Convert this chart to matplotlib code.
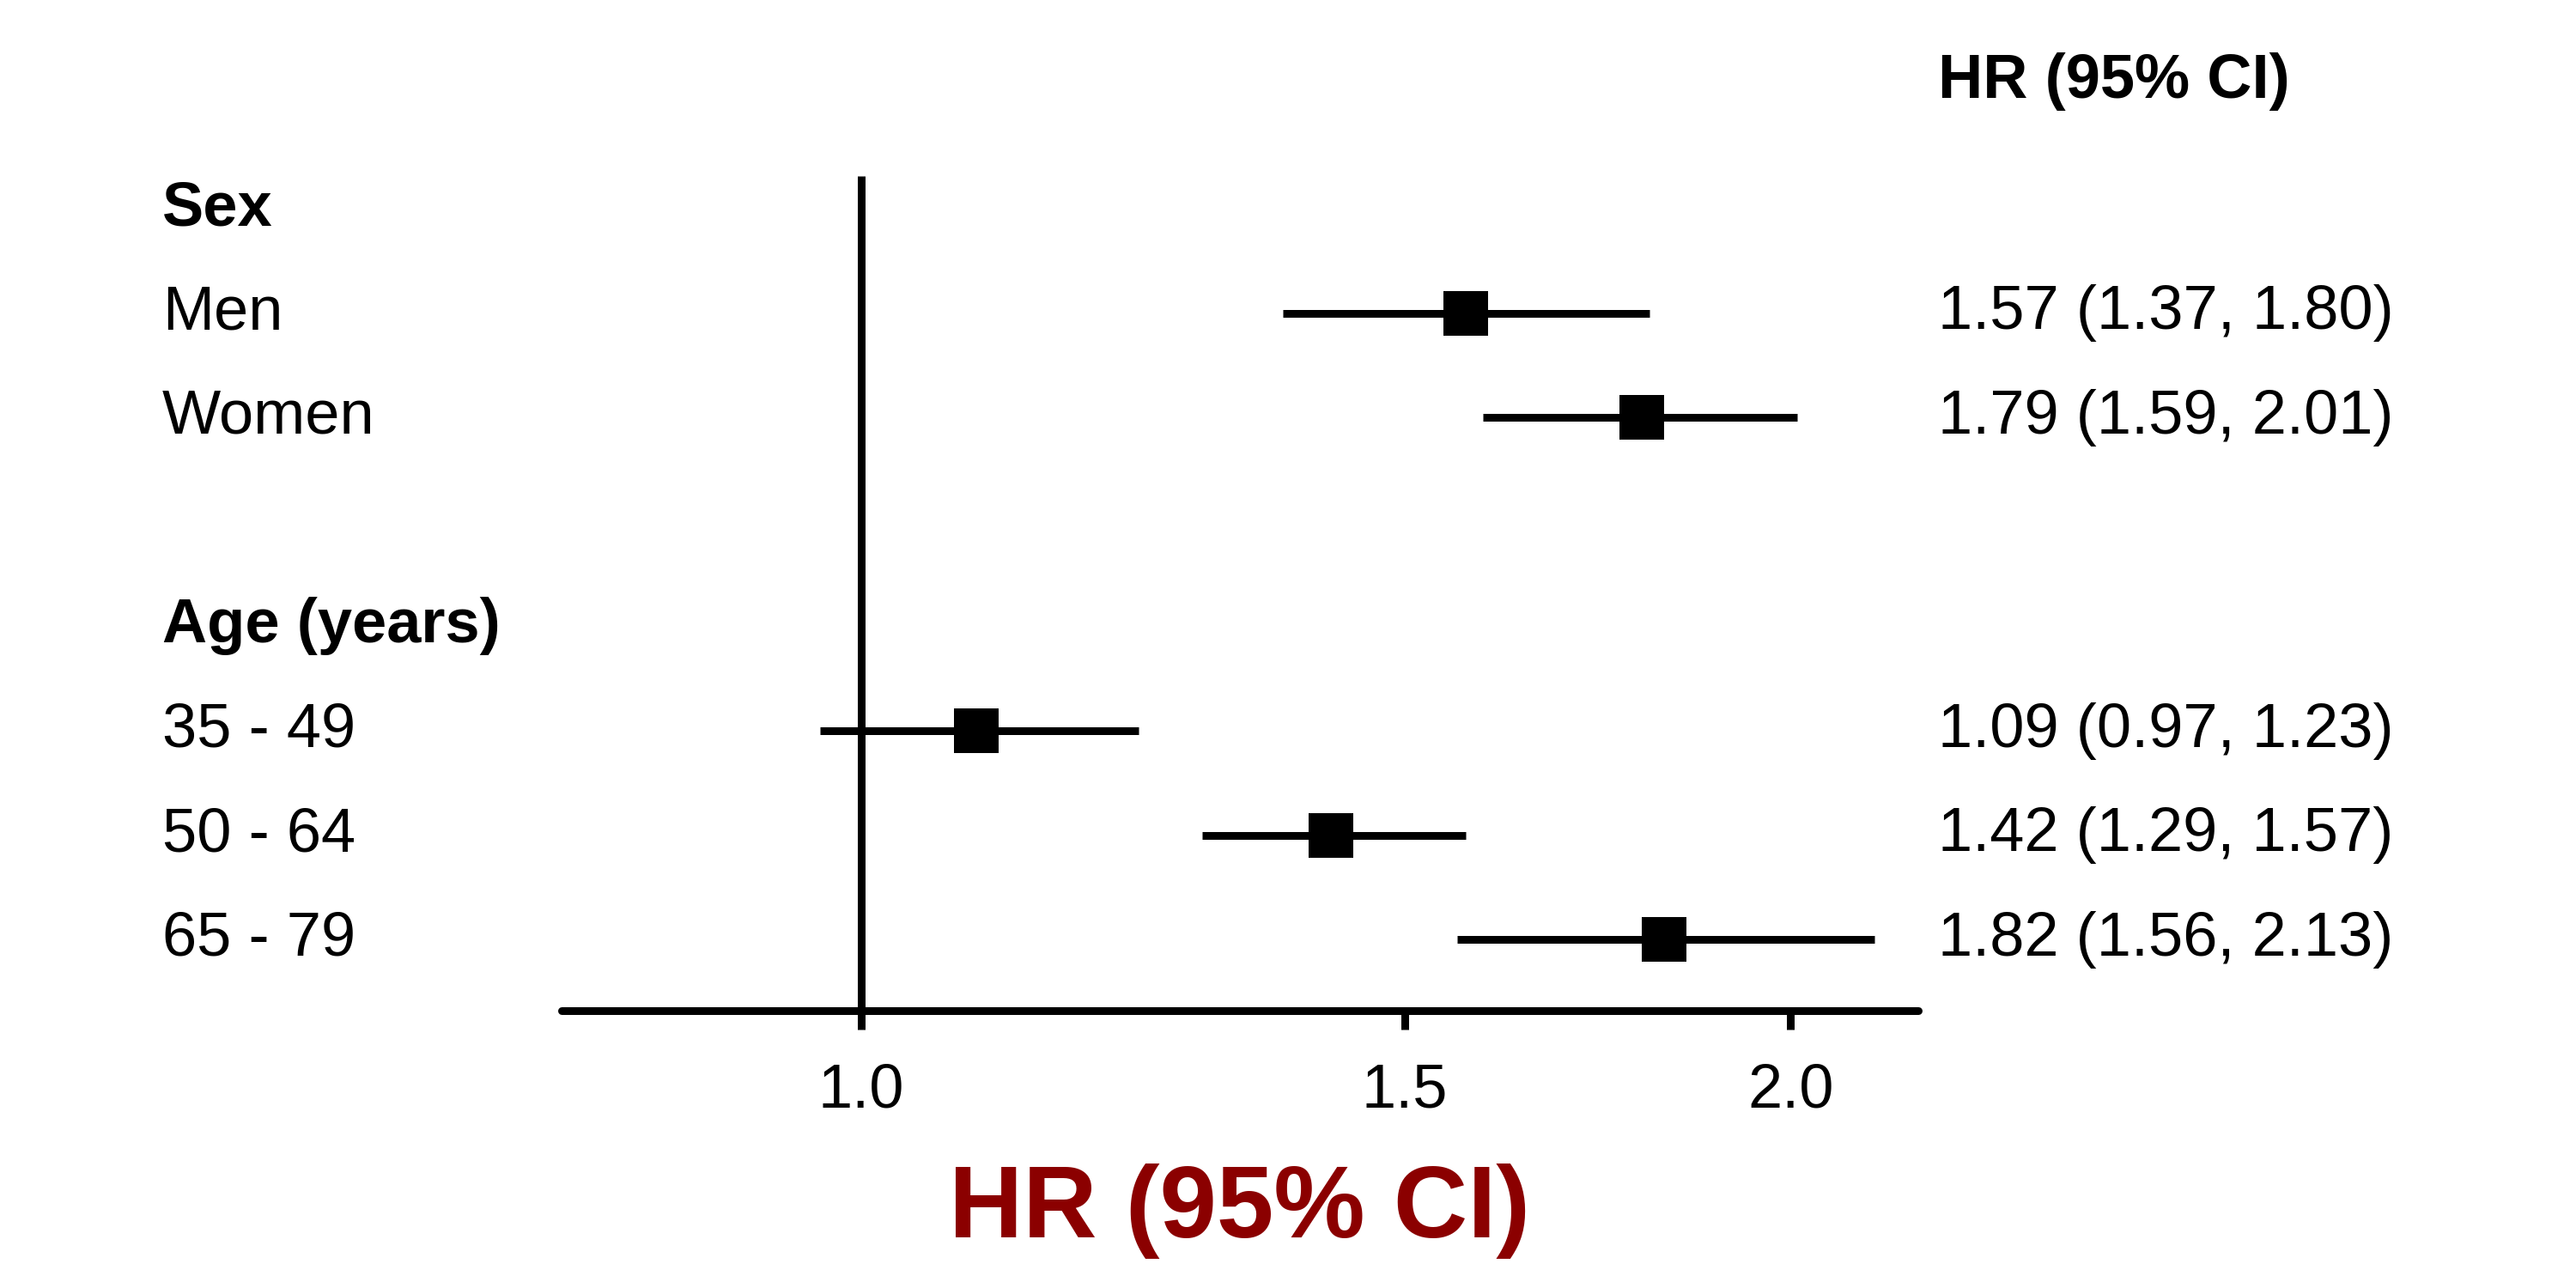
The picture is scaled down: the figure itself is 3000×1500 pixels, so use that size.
import numpy as np
import matplotlib.pyplot as plt
from matplotlib.transforms import blended_transform_factory

plt.rcParams['font.family'] = ['Liberation Sans', 'DejaVu Sans']

# rows from top to bottom (None = group heading / spacer)
labels = ["Sex", "Men", "Women", "", "Age (years)", "35 - 49", "50 - 64", "65 - 79"]
is_heading = [True, False, False, False, True, False, False, False]
hr = [None, 1.57, 1.79, None, None, 1.09, 1.42, 1.82]
lo = [None, 1.37, 1.59, None, None, 0.97, 1.29, 1.56]
hi = [None, 1.80, 2.01, None, None, 1.23, 1.57, 2.13]
xticks = [1.0, 1.5, 2.0]

lw = 3.24
y_bottom = 0.323

fig = plt.figure(figsize=(15, 7.5), dpi=200)
ax = fig.add_axes([654 / 3000, 1 - 1176.5 / 1500, 1580 / 3000, 1176.5 / 1500])
ax.set_xscale('log')
ax.set_xlim(0.8, 2.2)
ax.set_ylim(y_bottom, 10.0)

# x in figure fraction, y in data rows
trans = blended_transform_factory(fig.transFigure, ax.transData)

n = len(labels)
ypos = np.arange(n, 0, -1)  # Sex = 8 ... 65-79 = 1

# reference line at HR = 1
ax.plot([1.0, 1.0], [y_bottom, 8.31], color='black', lw=lw, solid_capstyle='butt', zorder=1)

for y, lab, head, h, l, u in zip(ypos, labels, is_heading, hr, lo, hi):
    ax.text(189 / 3000, y, lab, transform=trans, ha='left', va='center',
            fontsize=26, fontweight='bold' if head else 'normal')
    if h is None:
        continue
    ax.plot([l, u], [y, y], color='black', lw=lw, solid_capstyle='butt', zorder=2)
    ax.plot(h, y, marker='s', color='black', markersize=19, markeredgewidth=0, zorder=3)
    ax.text(2257 / 3000, y, "%.2f (%.2f, %.2f)" % (h, l, u), transform=trans,
            ha='left', va='center', fontsize=26)

ax.text(2257 / 3000, 9.22, "HR (95% CI)", transform=trans,
        ha='left', va='center', fontsize=26, fontweight='bold')

for s in ['top', 'right', 'left', 'bottom']:
    ax.spines[s].set_visible(False)
ax.axhline(y_bottom, color='black', lw=lw, solid_capstyle='round', zorder=1, clip_on=False)

ax.set_yticks([])
ax.set_xticks(xticks)
ax.set_xticklabels(["%.1f" % t for t in xticks])
ax.xaxis.set_minor_locator(plt.NullLocator())
ax.tick_params(axis='x', direction='out', length=8, width=lw, pad=14, labelsize=26)

ax.set_xlabel("HR (95% CI)", fontsize=43, fontweight='bold', color='#8B0000', labelpad=18)

fig.savefig('out.png', dpi=200)
